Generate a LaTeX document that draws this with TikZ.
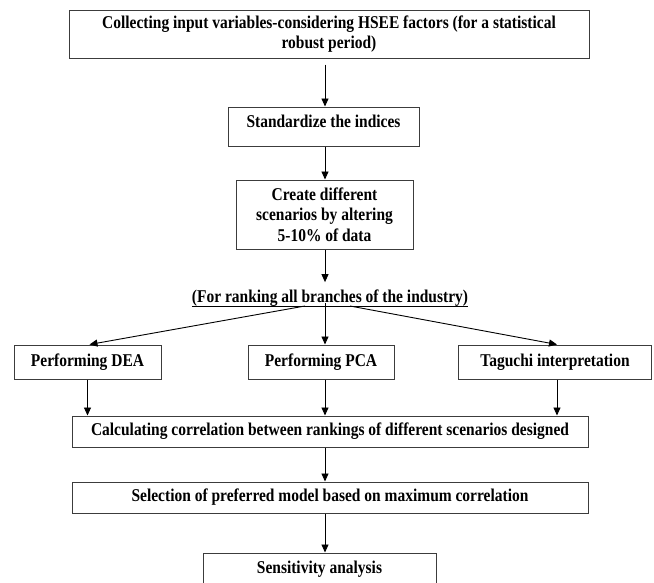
\documentclass[tikz,border=0pt]{standalone}
\usepackage{fontspec}
\setmainfont[FakeStretch=0.86]{Liberation Serif}
\usepackage{tikz}
\usetikzlibrary{arrows.meta,positioning,calc}
\definecolor{boxgray}{RGB}{60,60,60}

\begin{document}
\begin{tikzpicture}[
x=1pt,y=-1pt,
box/.style={draw=boxgray,line width=1pt,align=center,inner sep=2pt,font=\bfseries\fontsize{18}{20.5}\selectfont},
arr/.style={-{Triangle[length=8pt,width=7pt]},line width=0.9pt}
]
\useasboundingbox (0,0) rectangle (654,582);
\coordinate (ax) at (325,0);
\node[box,minimum width=520pt,minimum height=48pt] (collect) at (329,34) {Collecting input variables-considering HSEE factors (for a statistical\\robust period)};
\node[box,minimum width=191pt,minimum height=39pt,text depth=10pt] (std) at (323.5,126.5) {Standardize the indices};
\node[box,minimum width=177pt,minimum height=69pt] (scen) at (324.5,214.5) {Create different\\scenarios by altering\\5-10\% of data};
\node[font=\bfseries\fontsize{18}{20.5}\selectfont,inner sep=0pt,anchor=base] (rank) at (330,302) {(For ranking all branches of the industry)};
\node[box,minimum width=147pt,minimum height=34pt] (dea) at (87.5,362) {Performing DEA};
\node[box,minimum width=146pt,minimum height=34pt] (pca) at (321,362) {Performing PCA};
\node[box,minimum width=193pt,minimum height=34pt] (tag) at (555,362) {Taguchi interpretation};
\node[box,minimum width=516pt,minimum height=31pt] (calc) at (330,431.5) {Calculating correlation between rankings of different scenarios designed};
\node[box,minimum width=516pt,minimum height=31pt] (sel) at (330,497.5) {Selection of preferred model based on maximum correlation};
\node[box,minimum width=233pt,minimum height=32pt] (sens) at (319.5,569) {Sensitivity analysis};
\coordinate (rl) at ($(rank.base)+(-25,4)$);
\coordinate (rr) at ($(rank.base)+(20,4)$);
\draw[line width=0.9pt] ([yshift=-4pt]rank.base west) -- ([yshift=-4pt]rank.base east);
\draw[arr,shorten <=6pt] (collect.south -| ax) -- (std.north -| ax);
\draw[arr] (std.south -| ax) -- (scen.north -| ax);
\draw[arr,shorten >=7pt] (scen.south -| ax) -- (rank.north -| ax);
\draw[arr] (rl) -- ([xshift=2pt]dea.north);
\draw[arr] ([yshift=-1pt]rank.base -| ax) -- (pca.north -| ax);
\draw[arr] (rr) -- ([xshift=2pt]tag.north);
\draw[arr] (dea.south) -- (dea.south |- calc.north);
\draw[arr] (pca.south -| ax) -- (calc.north -| ax);
\draw[arr] ([xshift=2pt]tag.south) -- ([xshift=2pt]tag.south |- calc.north);
\draw[arr] (calc.south -| ax) -- (sel.north -| ax);
\draw[arr] (sel.south -| ax) -- (sens.north -| ax);
\end{tikzpicture}
\end{document}
